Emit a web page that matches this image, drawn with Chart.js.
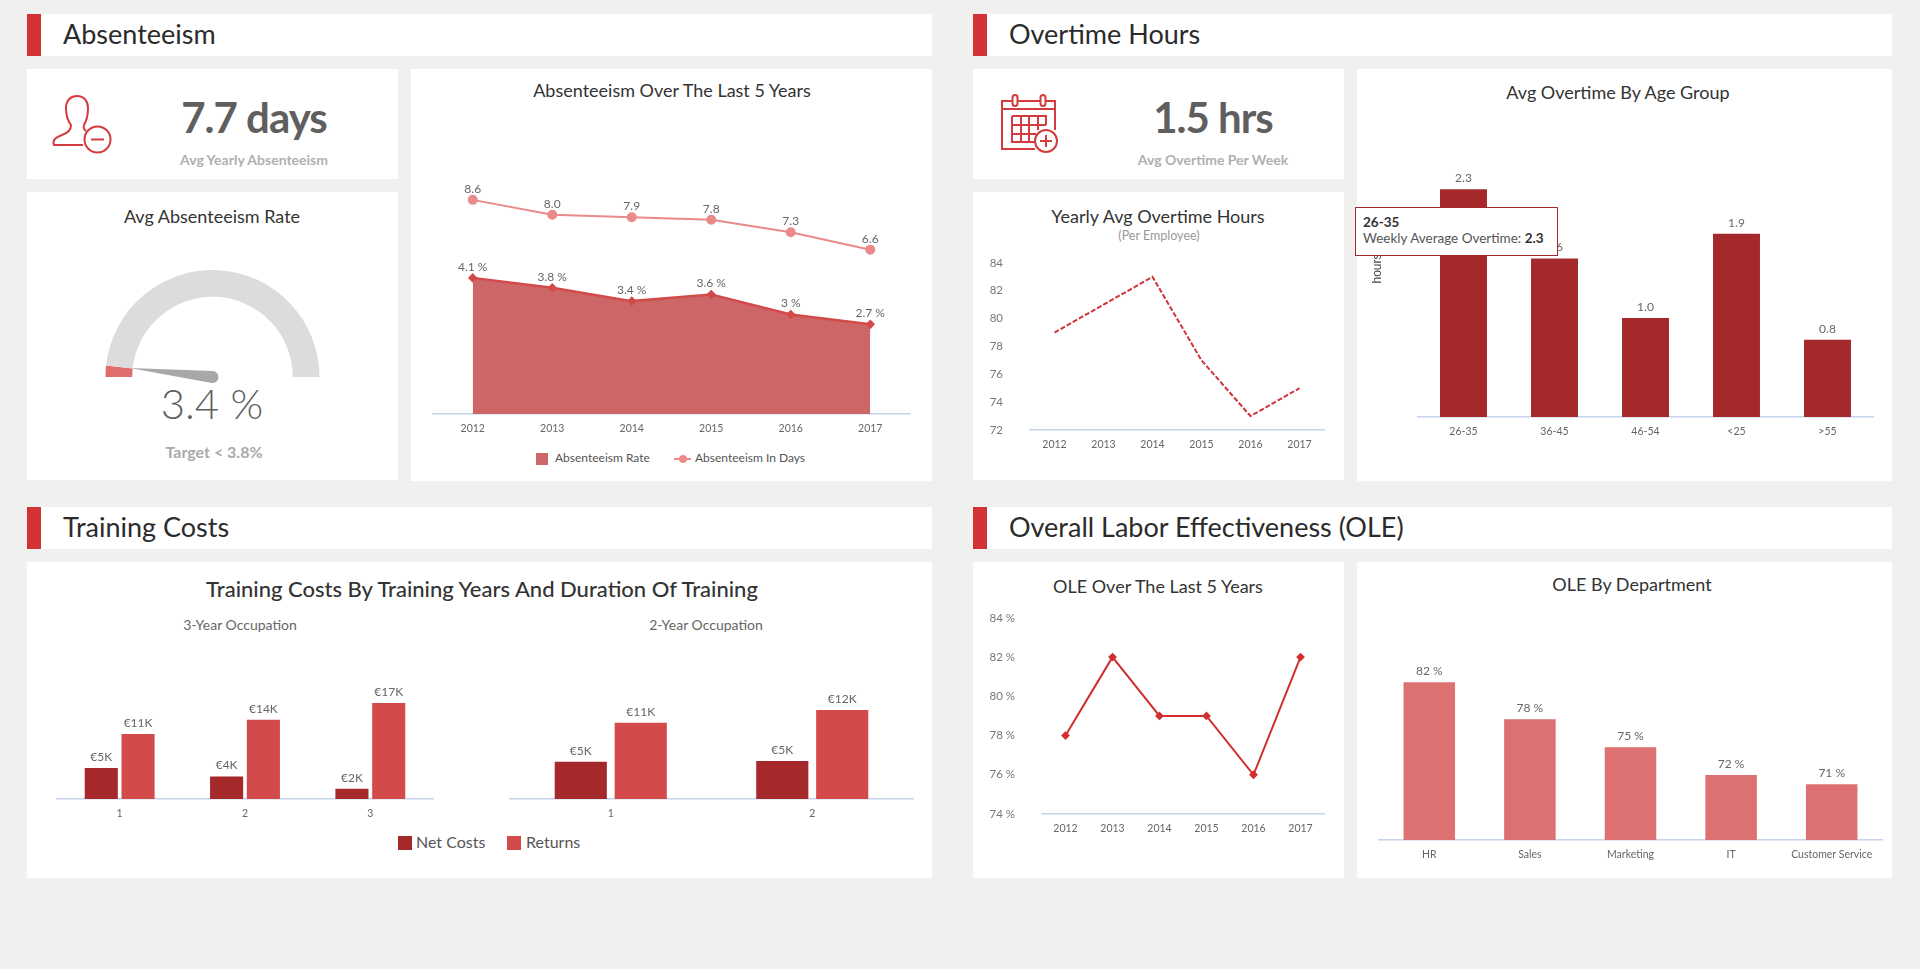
<!DOCTYPE html>
<html>
<head>
<meta charset="utf-8">
<title>HR dashboard</title>
<script src="https://cdn.jsdelivr.net/npm/chart.js@4/dist/chart.umd.min.js"></script>
<style>
  html, body { margin: 0; padding: 0; width: 1920px; height: 969px; overflow: hidden; background: #f0f0ee; font-family: Lato, sans-serif; }
  .box { position: absolute; background: #fff; }
  .bar { position: absolute; background: #d43234; width: 14px; height: 42px; }
  .txt { position: absolute; white-space: nowrap; line-height: 1; transform: translate(-50%, -50%); color: #333; }
  .head { position: absolute; white-space: nowrap; line-height: 1; transform: translateY(-50%); color: #2b2b2b; font-size: 27px; }
  .title { font-size: 18px; }
  .big { font-size: 42px; font-weight: 700; color: #5f5f5f; letter-spacing: -1px; }
  .sub { font-size: 14px; font-weight: 700; color: #b0b0b0; }
  canvas { position: absolute; }
  .leg { position: absolute; color: #555; white-space: nowrap; line-height: 1; transform: translateY(-50%); }
  .sw { position: absolute; }
  #tip { position: absolute; left: 1355px; top: 207px; width: 201px; height: 47px; background: #fff; border: 1px solid #a5292b; z-index: 5; color: #555; font-size: 13.5px; }
  #tip div { position: absolute; left: 7px; white-space: nowrap; line-height: 1; }
  #tip b { color: #333; }
  svg { position: absolute; left: 0; top: 0; }
</style>
</head>
<body>

<!-- section headers -->
<div class="box" style="left:27px;top:14px;width:905px;height:42px"></div><div class="bar" style="left:27px;top:14px"></div>
<div class="head" style="left:63px;top:33px">Absenteeism</div>
<div class="box" style="left:973px;top:14px;width:919px;height:42px"></div><div class="bar" style="left:973px;top:14px"></div>
<div class="head" style="left:1009px;top:33px">Overtime Hours</div>
<div class="box" style="left:27px;top:507px;width:905px;height:42px"></div><div class="bar" style="left:27px;top:507px"></div>
<div class="head" style="left:63px;top:526px">Training Costs</div>
<div class="box" style="left:973px;top:507px;width:919px;height:42px"></div><div class="bar" style="left:973px;top:507px"></div>
<div class="head" style="left:1009px;top:526px">Overall Labor Effectiveness (OLE)</div>

<!-- cartes -->
<div class="box" style="left:27px;top:69px;width:371px;height:110px"></div>
<div class="box" style="left:27px;top:192px;width:371px;height:288px"></div>
<div class="box" style="left:411px;top:69px;width:521px;height:412px"></div>
<div class="box" style="left:973px;top:69px;width:371px;height:110px"></div>
<div class="box" style="left:973px;top:192px;width:371px;height:288px"></div>
<div class="box" style="left:1357px;top:69px;width:535px;height:412px"></div>
<div class="box" style="left:27px;top:562px;width:905px;height:316px"></div>
<div class="box" style="left:973px;top:562px;width:371px;height:316px"></div>
<div class="box" style="left:1357px;top:562px;width:535px;height:316px"></div>

<!-- icons -->
<svg width="1920" height="969" fill="none" stroke="#d43a3e" stroke-width="2">
  <path d="M83 145 H54 C52 140 56 137 62 135 C68 133 71 130 71 125 C67 120 66 114 66 108 C66 100 71 96 77 96 C84 96 88 101 88 108 C88 114 87 120 84 125 C83 128 84 129 86 131"/>
  <circle cx="97.5" cy="139.5" r="13"/>
  <path d="M91 139.5 H104"/>
  <path d="M1035 149 H1002 V101 H1055 V130"/>
  <path d="M1002 109 H1055"/>
  <rect x="1012.5" y="95" width="5" height="11" rx="2.5" fill="#fff"/>
  <rect x="1040.5" y="95" width="5" height="11" rx="2.5" fill="#fff"/>
  <path d="M1012 116 H1046 V125 M1012 116 V142 H1035 M1012 125 H1046 M1012 134 H1036 M1021 116 V142 M1029 116 V142 M1038 116 V130"/>
  <circle cx="1046" cy="141" r="11" fill="#fff"/>
  <path d="M1040 141 H1052 M1046 135 V147"/>
</svg>

<!-- text -->
<div class="txt big" style="left:254px;top:117px">7.7 days</div>
<div class="txt sub" style="left:254px;top:160px">Avg Yearly Absenteeism</div>
<div class="txt title" style="left:212px;top:216px">Avg Absenteeism Rate</div>
<div class="txt" style="left:212px;top:403px;font-size:42px;color:#5f5f5f;font-weight:300" id="gaugeText"></div>
<div class="txt" style="left:214px;top:452px;font-size:16px;font-weight:700;color:#aaa">Target &lt; 3.8%</div>
<div class="txt title" style="left:672px;top:90px">Absenteeism Over The Last 5 Years</div>
<div class="txt big" style="left:1213px;top:117px">1.5 hrs</div>
<div class="txt sub" style="left:1213px;top:160px">Avg Overtime Per Week</div>
<div class="txt title" style="left:1158px;top:216px">Yearly Avg Overtime Hours</div>
<div class="txt" style="left:1159px;top:236px;font-size:12.5px;color:#999">(Per Employee)</div>
<div class="txt title" style="left:1618px;top:92px">Avg Overtime By Age Group</div>
<div class="txt" style="left:482px;top:589px;font-size:22px;font-weight:500">Training Costs By Training Years And Duration Of Training</div>
<div class="txt" style="left:240px;top:625px;font-size:14px;color:#666">3-Year Occupation</div>
<div class="txt" style="left:706px;top:625px;font-size:14px;color:#666">2-Year Occupation</div>
<div class="txt title" style="left:1158px;top:586px">OLE Over The Last 5 Years</div>
<div class="txt title" style="left:1632px;top:584px">OLE By Department</div>

<!-- legends -->
<div class="sw" style="left:536px;top:453px;width:12px;height:12px;background:#cd6767"></div>
<div class="leg" style="left:555px;top:458px;font-size:12px">Absenteeism Rate</div>
<div class="sw" style="left:674px;top:458px;width:17px;height:2px;background:#ea8a8a"></div>
<div class="sw" style="left:679px;top:455px;width:8px;height:8px;border-radius:4px;background:#ea8a8a"></div>
<div class="leg" style="left:695px;top:458px;font-size:12px">Absenteeism In Days</div>
<div class="sw" style="left:398px;top:836px;width:14px;height:14px;background:#a5292b"></div>
<div class="leg" style="left:416px;top:842px;font-size:16px">Net Costs</div>
<div class="sw" style="left:507px;top:836px;width:14px;height:14px;background:#d34a4a"></div>
<div class="leg" style="left:526px;top:842px;font-size:16px">Returns</div>

<canvas id="gauge" width="215" height="130" style="left:105px;top:270px"></canvas>
<canvas id="absent" width="521" height="351" style="left:411px;top:130px"></canvas>
<canvas id="yearly" width="371" height="243" style="left:973px;top:237px"></canvas>
<canvas id="age" width="535" height="371" style="left:1357px;top:110px"></canvas>
<canvas id="train3" width="470" height="218" style="left:27px;top:660px"></canvas>
<canvas id="train2" width="435" height="218" style="left:497px;top:660px"></canvas>
<canvas id="oleYear" width="371" height="286" style="left:973px;top:592px"></canvas>
<canvas id="oleDept" width="535" height="278" style="left:1357px;top:600px"></canvas>

<div id="tip"><div id="tipTitle" style="top:8px;font-weight:700;color:#333"></div><div id="tipBody" style="top:24px"></div></div>

<script>
// donnees
const years = ['2012', '2013', '2014', '2015', '2016', '2017'];
const absentRate = [4.1, 3.8, 3.4, 3.6, 3, 2.7];
const absentDays = [8.6, 8.0, 7.9, 7.8, 7.3, 6.6];
const gaugeValue = 3.4;
const gaugeMax = 100;
const overtimeYearly = [79, 81, 83, 77, 73, 75];
const ageGroups = ['26-35', '36-45', '46-54', '<25', '>55'];
const overtimeByAge = [2.3, 1.6, 1.0, 1.85, 0.78];
const train3Labels = ['1', '2', '3'];
const train3Net = [5.4, 3.9, 1.8];
const train3Returns = [11.3, 13.8, 16.7];
const train2Labels = ['1', '2'];
const train2Net = [5.2, 5.3];
const train2Returns = [10.6, 12.4];
const oleYearly = [78, 82, 79, 79, 76, 82];
const departments = ['HR', 'Sales', 'Marketing', 'IT', 'Customer Service'];
const oleByDept = [82, 78, 75, 72, 71];

const RED_DARK = '#a5292b';
const RED_MID = '#d34a4a';
const RED_SOFT = '#dd7070';
const AXIS = '#c5d4ea';
const TICK = '#666';

Chart.defaults.font.family = 'Lato, sans-serif';
Chart.defaults.animation = false;
Chart.defaults.responsive = false;
Chart.defaults.plugins.legend.display = false;
Chart.defaults.plugins.tooltip.enabled = false;

// etiquettes au dessus des points et des barres
Chart.register({
  id: 'valueLabels',
  afterDatasetsDraw(chart) {
    const ctx = chart.ctx;
    chart.data.datasets.forEach((ds, i) => {
      if (!ds.fmt) return;
      chart.getDatasetMeta(i).data.forEach((el, k) => {
        ctx.save();
        ctx.font = '12px Lato, sans-serif';
        ctx.fillStyle = '#666';
        ctx.textAlign = 'center';
        ctx.textBaseline = 'middle';
        ctx.fillText(ds.fmt(ds.data[k]), el.x, el.y - 11);
        ctx.restore();
      });
    });
  }
});

function xAxis() {
  return {
    offset: true,
    grid: { display: false },
    border: { color: AXIS, width: 1.5 },
    ticks: { color: TICK, font: { size: 10.5 }, padding: 0, maxRotation: 0, autoSkip: false },
    afterFit: s => { s.height = 30; }
  };
}

function hiddenY(min, max) {
  return { display: false, min: min, max: max };
}

// le padding des ticks compte aussi en haut du graphe, d'ou les canvas plus hauts
function tickY(min, max, width, fmt) {
  return {
    min: min, max: max,
    grid: { display: false },
    border: { display: false },
    ticks: { stepSize: 2, color: '#777', font: { size: 11.5 }, padding: 19, callback: fmt },
    afterFit: s => { s.width = width; }
  };
}

// Jauge
document.getElementById('gaugeText').textContent = gaugeValue + ' %';
new Chart(document.getElementById('gauge'), {
  type: 'doughnut',
  data: { datasets: [{
    data: [gaugeValue, gaugeMax - gaugeValue],
    backgroundColor: ['#e06c6c', '#dcdcdc'],
    borderWidth: 0, hoverOffset: 0
  }] },
  options: {
    rotation: -90, circumference: 180, cutout: '75%',
    layout: { padding: { bottom: 23 } }
  },
  plugins: [{
    id: 'needle',
    afterDatasetsDraw(chart) {
      const arc = chart.getDatasetMeta(0).data[0];
      const ctx = chart.ctx;
      const a = arc.endAngle;
      const tipR = arc.innerRadius + 3;
      const hub = 6;
      ctx.save();
      ctx.translate(arc.x, arc.y);
      ctx.fillStyle = '#a8a8a8';
      ctx.beginPath();
      ctx.moveTo(Math.cos(a) * tipR, Math.sin(a) * tipR);
      ctx.lineTo(Math.cos(a + Math.PI / 2) * hub, Math.sin(a + Math.PI / 2) * hub);
      ctx.arc(0, 0, hub, a + Math.PI / 2, a - Math.PI / 2, false);
      ctx.closePath();
      ctx.fill();
      ctx.restore();
    }
  }]
});

// Absenteeism Over The Last 5 Years
new Chart(document.getElementById('absent'), {
  type: 'line',
  data: {
    labels: years,
    datasets: [{
      label: 'Absenteeism In Days',
      data: absentDays, yAxisID: 'yDays',
      borderColor: '#ea8a8a', backgroundColor: '#ea8a8a', borderWidth: 2,
      pointRadius: 4, tension: 0, fmt: v => v.toFixed(1)
    }, {
      label: 'Absenteeism Rate',
      data: absentRate, yAxisID: 'yRate',
      borderColor: RED_MID, backgroundColor: '#cd6767', borderWidth: 2.5, fill: 'origin',
      pointStyle: 'rectRot', pointRadius: 3, pointBackgroundColor: RED_MID, tension: 0,
      fmt: v => v + ' %'
    }]
  },
  options: {
    layout: { padding: { left: 22, right: 22, top: 35, bottom: 37 } },
    scales: { x: xAxis(), yRate: hiddenY(0, 7.5), yDays: hiddenY(0, 10) }
  }
});

// Yearly Avg Overtime Hours
new Chart(document.getElementById('yearly'), {
  type: 'line',
  data: {
    labels: years,
    datasets: [{
      data: overtimeYearly,
      borderColor: '#d1343a', borderWidth: 2, borderDash: [5, 2],
      pointRadius: 0, tension: 0
    }]
  },
  options: {
    layout: { padding: { left: 0, right: 20, top: 0, bottom: 20 } },
    scales: { x: xAxis(), y: tickY(72, 84, 57) }
  }
});

// Avg Overtime By Age Group
new Chart(document.getElementById('age'), {
  type: 'bar',
  data: {
    labels: ageGroups,
    datasets: [{
      data: overtimeByAge,
      backgroundColor: RED_DARK, barPercentage: 0.516, categoryPercentage: 1,
      fmt: v => v.toFixed(1)
    }]
  },
  options: {
    layout: { padding: { left: 9, right: 19, top: 10, bottom: 34 } },
    scales: {
      x: xAxis(),
      y: {
        min: 0, max: 3,
        grid: { display: false }, border: { display: false },
        ticks: { display: false },
        title: { display: true, text: 'hours', color: '#444', font: { family: 'Liberation Sans', size: 12 } },
        afterFit: s => { s.width = 52; }
      }
    }
  }
});

// l'infobulle du graphe par age
document.getElementById('tipTitle').textContent = ageGroups[0];
document.getElementById('tipBody').innerHTML = 'Weekly Average Overtime: <b>' + overtimeByAge[0] + '</b>';

// Training costs
function trainChart(id, labels, net, returns, maxY, catPct, barPct, pad) {
  const euro = v => '€' + Math.round(v) + 'K';
  new Chart(document.getElementById(id), {
    type: 'bar',
    data: {
      labels: labels,
      datasets: [
        { label: 'Net Costs', data: net, backgroundColor: RED_DARK, categoryPercentage: catPct, barPercentage: barPct, fmt: euro },
        { label: 'Returns', data: returns, backgroundColor: RED_MID, categoryPercentage: catPct, barPercentage: barPct, fmt: euro }
      ]
    },
    options: {
      layout: { padding: pad },
      scales: { x: xAxis(), y: hiddenY(0, maxY) }
    }
  });
}
trainChart('train3', train3Labels, train3Net, train3Returns, 20, 0.587, 0.9, { left: 30, right: 64, top: 24, bottom: 49 });
trainChart('train2', train2Labels, train2Net, train2Returns, 16, 0.595, 0.87, { left: 13, right: 19, top: 24, bottom: 49 });

// OLE Over The Last 5 Years
new Chart(document.getElementById('oleYear'), {
  type: 'line',
  data: {
    labels: years,
    datasets: [{
      data: oleYearly,
      borderColor: '#d12e30', backgroundColor: '#d12e30', borderWidth: 2,
      pointStyle: 'rectRot', pointRadius: 3, tension: 0
    }]
  },
  options: {
    layout: { padding: { left: 0, right: 20, top: 0, bottom: 34 } },
    scales: { x: xAxis(), y: tickY(74, 84, 69, v => v + ' %') }
  }
});

// OLE By Department
new Chart(document.getElementById('oleDept'), {
  type: 'bar',
  data: {
    labels: departments,
    datasets: [{
      data: oleByDept,
      backgroundColor: RED_SOFT, barPercentage: 0.512, categoryPercentage: 1,
      fmt: v => v + ' %'
    }]
  },
  options: {
    layout: { padding: { left: 22, right: 10, top: 8, bottom: 8 } },
    scales: { x: xAxis(), y: hiddenY(65, 90) }
  }
});
</script>
</body>
</html>
